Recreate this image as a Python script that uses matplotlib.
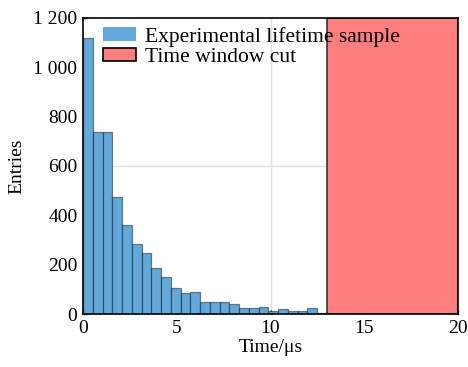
import numpy as np
import matplotlib
matplotlib.use("Agg")
import matplotlib.pyplot as plt
from matplotlib.patches import Patch
from matplotlib.ticker import FuncFormatter

plt.rcParams['font.family'] = ['Liberation Serif', 'DejaVu Serif']
plt.rcParams['font.size'] = 14
plt.rcParams['mathtext.fontset'] = 'stix'

# histogram counts (25 bins from 0 to 13 us)
counts = [1118, 739, 739, 475, 361, 284, 249, 185, 148, 104, 84, 88, 50,
          47, 50, 39, 25, 26, 30, 13, 19, 13, 13, 23, 6]
t_min = 0.0
t_cut = 13.0
t_max = 20.0

edges = np.linspace(t_min, t_cut, len(counts) + 1)
widths = np.diff(edges)

fig = plt.figure(figsize=(4.68, 3.67), dpi=100)
ax = fig.add_axes([0.1774, 0.1444, 0.8012, 0.8066])

# light grid lines
ax.axvline(10, color='#e0e0e0', lw=1, zorder=0)
ax.axhline(600, color='#e0e0e0', lw=1, zorder=0)

ax.bar(edges[:-1], counts, width=widths, align='edge', color='#62a8db',
       edgecolor=(0, 0, 0, 0.45), linewidth=0.9, zorder=2)

ax.axvspan(t_cut, t_max, facecolor='#ff7f7f', edgecolor='#333333',
           linewidth=1.2, zorder=3)

ax.set_xlim(t_min, t_max)
ax.set_ylim(0, 1200)
ax.set_xticks([0, 5, 10, 15, 20])
ax.set_yticks(np.arange(0, 1201, 200))
ax.yaxis.set_major_formatter(FuncFormatter(lambda v, p: f"{int(v):,}".replace(",", " ")))
ax.tick_params(direction='in', length=3, width=1, top=False, right=False, pad=4)
for s in ax.spines.values():
    s.set_linewidth(1.2)
    s.set_zorder(5)

ax.set_xlabel("Time/μs", labelpad=2)
ax.set_ylabel("Entries", labelpad=6)

handles = [Patch(facecolor='#62a8db', edgecolor='none'),
           Patch(facecolor='#ff7f7f', edgecolor='black', linewidth=1.2)]
ax.legend(handles, ["Experimental lifetime sample", "Time window cut"],
          loc='upper left', frameon=False, borderaxespad=0.0,
          fontsize=15.5, handlelength=1.55, handleheight=0.6,
          handletextpad=0.4, labelspacing=0.05,
          bbox_to_anchor=(0.03, 1.0))

fig.savefig("out.png", dpi=100)
